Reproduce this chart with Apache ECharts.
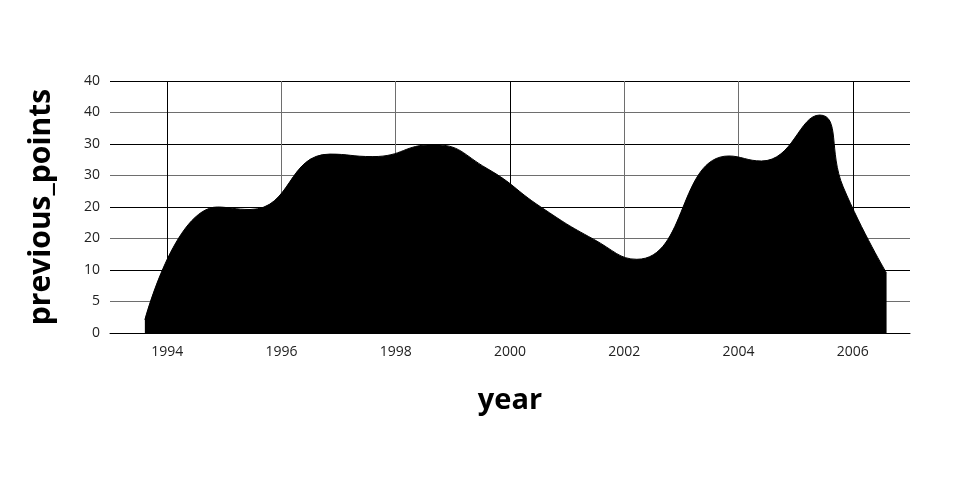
<!DOCTYPE html>
<html>
<head>
<meta charset="utf-8">
<script src="https://cdn.jsdelivr.net/npm/echarts@6/dist/echarts.min.js"></script>
<style>
  html, body { margin: 0; padding: 0; background: #fff; }
  #chart { width: 960px; height: 500px; }
</style>
</head>
<body>
<div id="chart"></div>
<script>
// ---- data ----
const years = [1993.61, 1994.88, 1995.45, 1996.85, 1997.6, 1998.65, 1999.6, 2000.54, 2001.46, 2002.22, 2003.83, 2004.4, 2005.42, 2005.83, 2006.59];
const previousPoints = [2.1, 20.0, 19.6, 28.4, 28.0, 29.9, 26.1, 20.0, 14.9, 11.7, 28.1, 27.3, 34.6, 23.2, 9.5];
const xTickLabels = ['1994', '1996', '1998', '2000', '2002', '2004', '2006'];
const yTickValues = [0, 5, 10, 15, 20, 25, 30, 35, 40];
const yTickLabels = ['0', '5', '10', '20', '20', '30', '30', '40', '40'];

const seriesData = years.map((y, i) => [y, previousPoints[i]]);

// split line colours for x ticks 1993..2007 (only even years visible)
const xLineColors = [];
for (let yr = 1993; yr <= 2007; yr++) {
  const idx = xTickLabels.indexOf(String(yr));
  xLineColors.push(idx < 0 ? 'rgba(0,0,0,0)' : (idx % 3 === 0 ? '#000' : '#6e6e6e'));
}

const chart = echarts.init(document.getElementById('chart'), null, { renderer: 'canvas' });
chart.setOption({
  animation: false,
  backgroundColor: '#fff',
  textStyle: { fontFamily: 'Open Sans' },
  grid: { left: 110, right: 50, top: 81, bottom: 167, containLabel: false },
  xAxis: {
    type: 'value',
    min: 1993,
    max: 2007,
    interval: 1,
    name: 'year',
    nameLocation: 'middle',
    nameGap: 53,
    nameTextStyle: { fontSize: 29, fontWeight: 'bold', color: '#000', fontFamily: 'Open Sans' },
    axisLine: { show: true, lineStyle: { color: '#000', width: 1 } },
    axisTick: { show: false },
    axisLabel: {
      margin: 12,
      fontSize: 14,
      color: '#222',
      fontFamily: 'Open Sans',
      formatter: v => (xTickLabels.indexOf(String(v)) >= 0 ? String(v) : '')
    },
    splitLine: { show: true, lineStyle: { color: xLineColors, width: 1 } }
  },
  yAxis: {
    type: 'value',
    min: 0,
    max: 40,
    interval: 5,
    name: 'previous_points',
    nameLocation: 'middle',
    nameGap: 54,
    nameTextStyle: { fontSize: 30, fontWeight: 'bold', color: '#000', fontFamily: 'Open Sans' },
    axisLine: { show: false },
    axisTick: { show: false },
    axisLabel: {
      margin: 10,
      fontSize: 14,
      color: '#222',
      fontFamily: 'Open Sans',
      formatter: v => {
        const i = yTickValues.indexOf(v);
        return i >= 0 ? yTickLabels[i] : '';
      }
    },
    splitLine: { show: true, lineStyle: { color: ['#000', '#6e6e6e'], width: 1 } }
  },
  series: [{
    type: 'line',
    data: seriesData,
    smooth: 0.5,
    showSymbol: false,
    symbol: 'none',
    lineStyle: { color: '#000', width: 1 },
    areaStyle: { color: '#000', opacity: 1 },
    z: 3
  }]
});
</script>
</body>
</html>
